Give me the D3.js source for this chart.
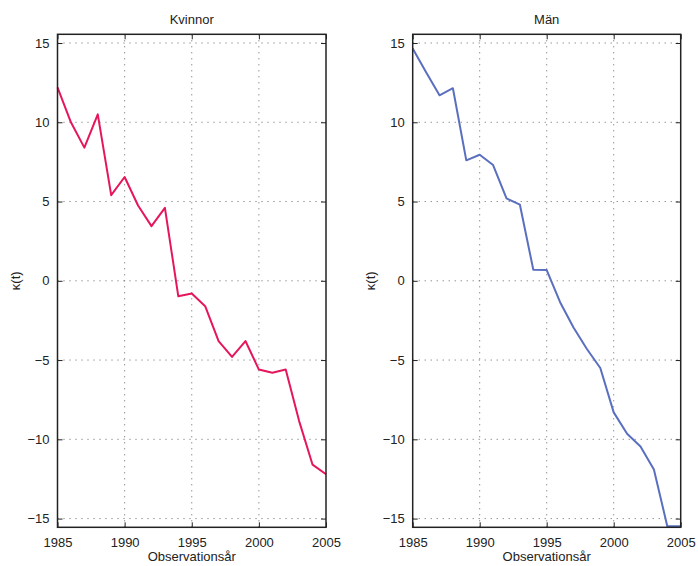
<!DOCTYPE html>
<html>
<head>
<meta charset="utf-8">
<script src="https://cdn.jsdelivr.net/npm/d3@7"></script>
<style>
  body { margin: 0; background: #fff; }
  svg text { font-family: "Liberation Sans", Arial, Helvetica, sans-serif; fill: #222; }
</style>
</head>
<body>
<div id="chart"></div>
<script>
(() => {
    const width = 698, height = 566;

    // data
    const years = d3.range(1985, 2006);
    const kvinnor = [12.2, 10.0, 8.4, 10.5, 5.4, 6.55, 4.75, 3.45, 4.6, -0.98, -0.8, -1.6, -3.8, -4.8, -3.8, -5.6, -5.8, -5.6, -8.85, -11.6, -12.2];
    const man = [14.65, 13.15, 11.7, 12.15, 7.6, 7.95, 7.3, 5.2, 4.8, 0.7, 0.68, -1.35, -2.95, -4.3, -5.5, -8.3, -9.65, -10.45, -11.9, -15.48, -15.48];
    const xTicks = [1985, 1990, 1995, 2000, 2005];
    const yTicks = [-15, -10, -5, 0, 5, 10, 15];
    const yDomain = [-15.55, 15.55];

    const panels = [
        { title: "Kvinnor", values: kvinnor, color: "#e5175a", left: 57.5, right: 326 },
        { title: "Män", values: man, color: "#5a6fbf", left: 412.7, right: 680.7 }
    ];
    const top = 34.3, bottom = 527.3;

    const svg = d3.select("#chart")
        .append("svg")
        .attr("width", width)
        .attr("height", height);

    const fmt = d => d < 0 ? "\u2212" + Math.abs(d) : String(d);

    panels.forEach(p => {
        const x = d3.scaleLinear().domain([1985, 2005]).range([p.left, p.right]);
        const y = d3.scaleLinear().domain(yDomain).range([bottom, top]);
        const g = svg.append("g");

        // grid
        g.append("g").selectAll("line")
            .data(xTicks.slice(1, -1))
            .join("line")
            .attr("x1", d => x(d)).attr("x2", d => x(d))
            .attr("y1", top).attr("y2", bottom)
            .attr("stroke", "#666").attr("stroke-width", 1)
            .attr("stroke-dasharray", "1,5");
        g.append("g").selectAll("line")
            .data(yTicks)
            .join("line")
            .attr("x1", p.left).attr("x2", p.right)
            .attr("y1", d => y(d)).attr("y2", d => y(d))
            .attr("stroke", "#666").attr("stroke-width", 1)
            .attr("stroke-dasharray", "1,5");

        g.append("path")
            .datum(years.map((yr, i) => [yr, p.values[i]]))
            .attr("fill", "none")
            .attr("stroke", p.color)
            .attr("stroke-width", 2)
            .attr("stroke-linejoin", "round")
            .attr("d", d3.line().x(d => x(d[0])).y(d => y(d[1])));

        // axes with inward ticks
        g.append("g")
            .attr("transform", `translate(0,${bottom})`)
            .call(d3.axisBottom(x).tickValues(xTicks).tickFormat(d3.format("d")).tickSizeInner(-5).tickSizeOuter(0).tickPadding(10))
            .call(a => a.select(".domain").remove())
            .call(a => a.selectAll("line").attr("stroke", "#222"))
            .call(a => a.selectAll("text").style("font-size", "13px").attr("fill", "#222"));

        g.append("g")
            .attr("transform", `translate(0,${top})`)
            .call(d3.axisTop(x).tickValues(xTicks).tickFormat("").tickSizeInner(-5).tickSizeOuter(0))
            .call(a => a.select(".domain").remove())
            .call(a => a.selectAll("line").attr("stroke", "#222"));

        g.append("g")
            .attr("transform", `translate(${p.left},0)`)
            .call(d3.axisLeft(y).tickValues(yTicks).tickFormat(fmt).tickSizeInner(-5).tickSizeOuter(0).tickPadding(8))
            .call(a => a.select(".domain").remove())
            .call(a => a.selectAll("line").attr("stroke", "#222"))
            .call(a => a.selectAll("text").style("font-size", "13px").attr("fill", "#222"));

        g.append("g")
            .attr("transform", `translate(${p.right},0)`)
            .call(d3.axisRight(y).tickValues(yTicks).tickFormat("").tickSizeInner(-5).tickSizeOuter(0))
            .call(a => a.select(".domain").remove())
            .call(a => a.selectAll("line").attr("stroke", "#222"));

        // frame
        g.append("rect")
            .attr("x", p.left).attr("y", top)
            .attr("width", p.right - p.left).attr("height", bottom - top)
            .attr("fill", "none")
            .attr("stroke", "#222")
            .attr("stroke-width", 1.5);

        // titles and labels
        g.append("text")
            .attr("x", (p.left + p.right) / 2)
            .attr("y", 24)
            .attr("text-anchor", "middle")
            .style("font-size", "13px")
            .text(p.title);

        g.append("text")
            .attr("x", (p.left + p.right) / 2)
            .attr("y", 561)
            .attr("text-anchor", "middle")
            .style("font-size", "13px")
            .text("Observationsår");

        g.append("text")
            .attr("transform", "rotate(-90)")
            .attr("x", -(top + bottom) / 2)
            .attr("y", p.left - 38)
            .attr("text-anchor", "middle")
            .style("font-size", "13px")
            .text("κ(t)");
    });
})();
</script>
</body>
</html>
